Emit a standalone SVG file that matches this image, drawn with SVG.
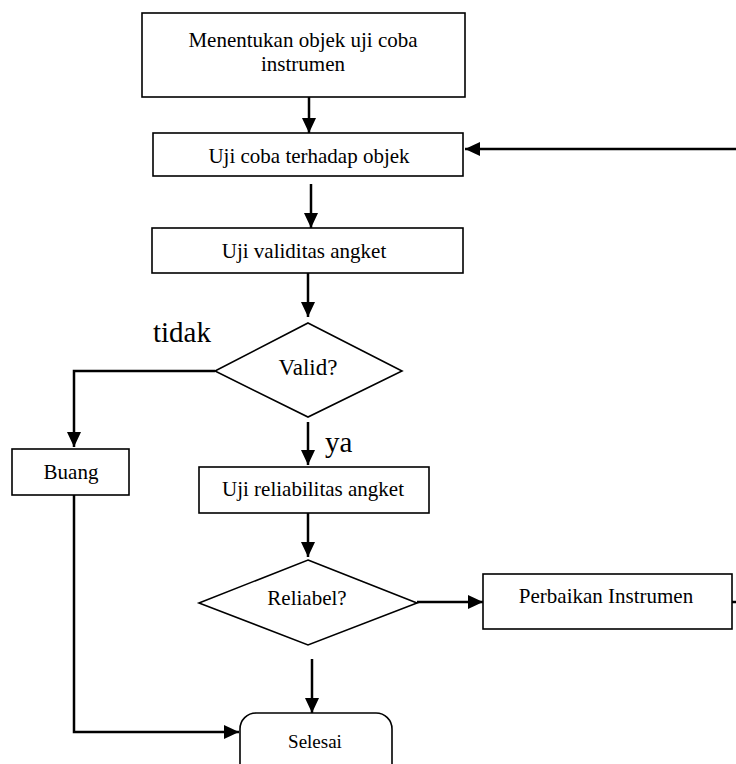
<svg xmlns="http://www.w3.org/2000/svg" width="736" height="764" viewBox="0 0 736 764">
<style>
.box{fill:#fff;stroke:#000;stroke-width:1.6}
.t{font-family:"Liberation Serif","Times New Roman",serif;font-size:21px;fill:#000;text-anchor:middle}
.big{font-family:"Liberation Serif","Times New Roman",serif;font-size:29px;fill:#000}
.c{fill:none;stroke:#000;stroke-width:2.5}
</style>
<defs>
<marker id="ah" markerUnits="userSpaceOnUse" markerWidth="16" markerHeight="14" refX="15" refY="7" orient="auto">
<path d="M0,0 L15,7 L0,14 z" fill="#000"/>
</marker>
</defs>
<rect width="736" height="764" fill="#fff"/>
<g id="connectors">
<line class="c" x1="309" y1="97" x2="309" y2="133" marker-end="url(#ah)"/>
<line class="c" x1="736" y1="149" x2="465" y2="149" marker-end="url(#ah)"/>
<line class="c" x1="311" y1="184" x2="311" y2="228" marker-end="url(#ah)"/>
<line class="c" x1="308" y1="273" x2="308" y2="317" marker-end="url(#ah)"/>
<polyline class="c" points="215,371 74,371 74,447" marker-end="url(#ah)"/>
<line class="c" x1="308" y1="422" x2="308" y2="465" marker-end="url(#ah)"/>
<line class="c" x1="308" y1="513" x2="308" y2="557" marker-end="url(#ah)"/>
<line class="c" x1="417" y1="602" x2="483" y2="602" marker-end="url(#ah)"/>
<line class="c" x1="716" y1="602" x2="736" y2="602"/>
<line class="c" x1="312" y1="659" x2="312" y2="713" marker-end="url(#ah)"/>
<polyline class="c" points="74,495 74,732 239,732" marker-end="url(#ah)"/>
</g>
<g id="n1">
<rect class="box" x="142" y="13" width="323" height="84"/>
<text class="t" x="303" y="47">Menentukan objek uji coba</text>
<text class="t" x="303" y="71">instrumen</text>
</g>
<g id="n2">
<rect class="box" x="153" y="133" width="310" height="43"/>
<text class="t" x="309" y="163">Uji coba terhadap objek</text>
</g>
<g id="n3">
<rect class="box" x="152" y="228" width="311" height="45"/>
<text class="t" x="304" y="258">Uji validitas angket</text>
</g>
<g id="n4">
<polygon class="box" points="308,323 402,371 308,417 215,371"/>
<text class="t" x="308" y="375" style="font-size:23px">Valid?</text>
</g>
<g id="lbl-tidak">
<text class="big" x="153" y="342">tidak</text>
</g>
<g id="lbl-ya">
<text class="big" x="325" y="452">ya</text>
</g>
<g id="n5">
<rect class="box" x="12" y="449" width="117" height="46"/>
<text class="t" x="71" y="479">Buang</text>
</g>
<g id="n6">
<rect class="box" x="199" y="467" width="230" height="46"/>
<text class="t" x="313" y="496">Uji reliabilitas angket</text>
</g>
<g id="n7">
<polygon class="box" points="308,560 417,603 308,645 199,603"/>
<text class="t" x="307" y="605">Reliabel?</text>
</g>
<g id="n8">
<rect class="box" x="483" y="574" width="249" height="55"/>
<text class="t" x="606" y="603">Perbaikan Instrumen</text>
</g>
<g id="n9">
<rect class="box" x="240" y="713" width="152" height="70" rx="16" ry="16"/>
<text class="t" x="315" y="748" style="font-size:19px">Selesai</text>
</g>
</svg>
